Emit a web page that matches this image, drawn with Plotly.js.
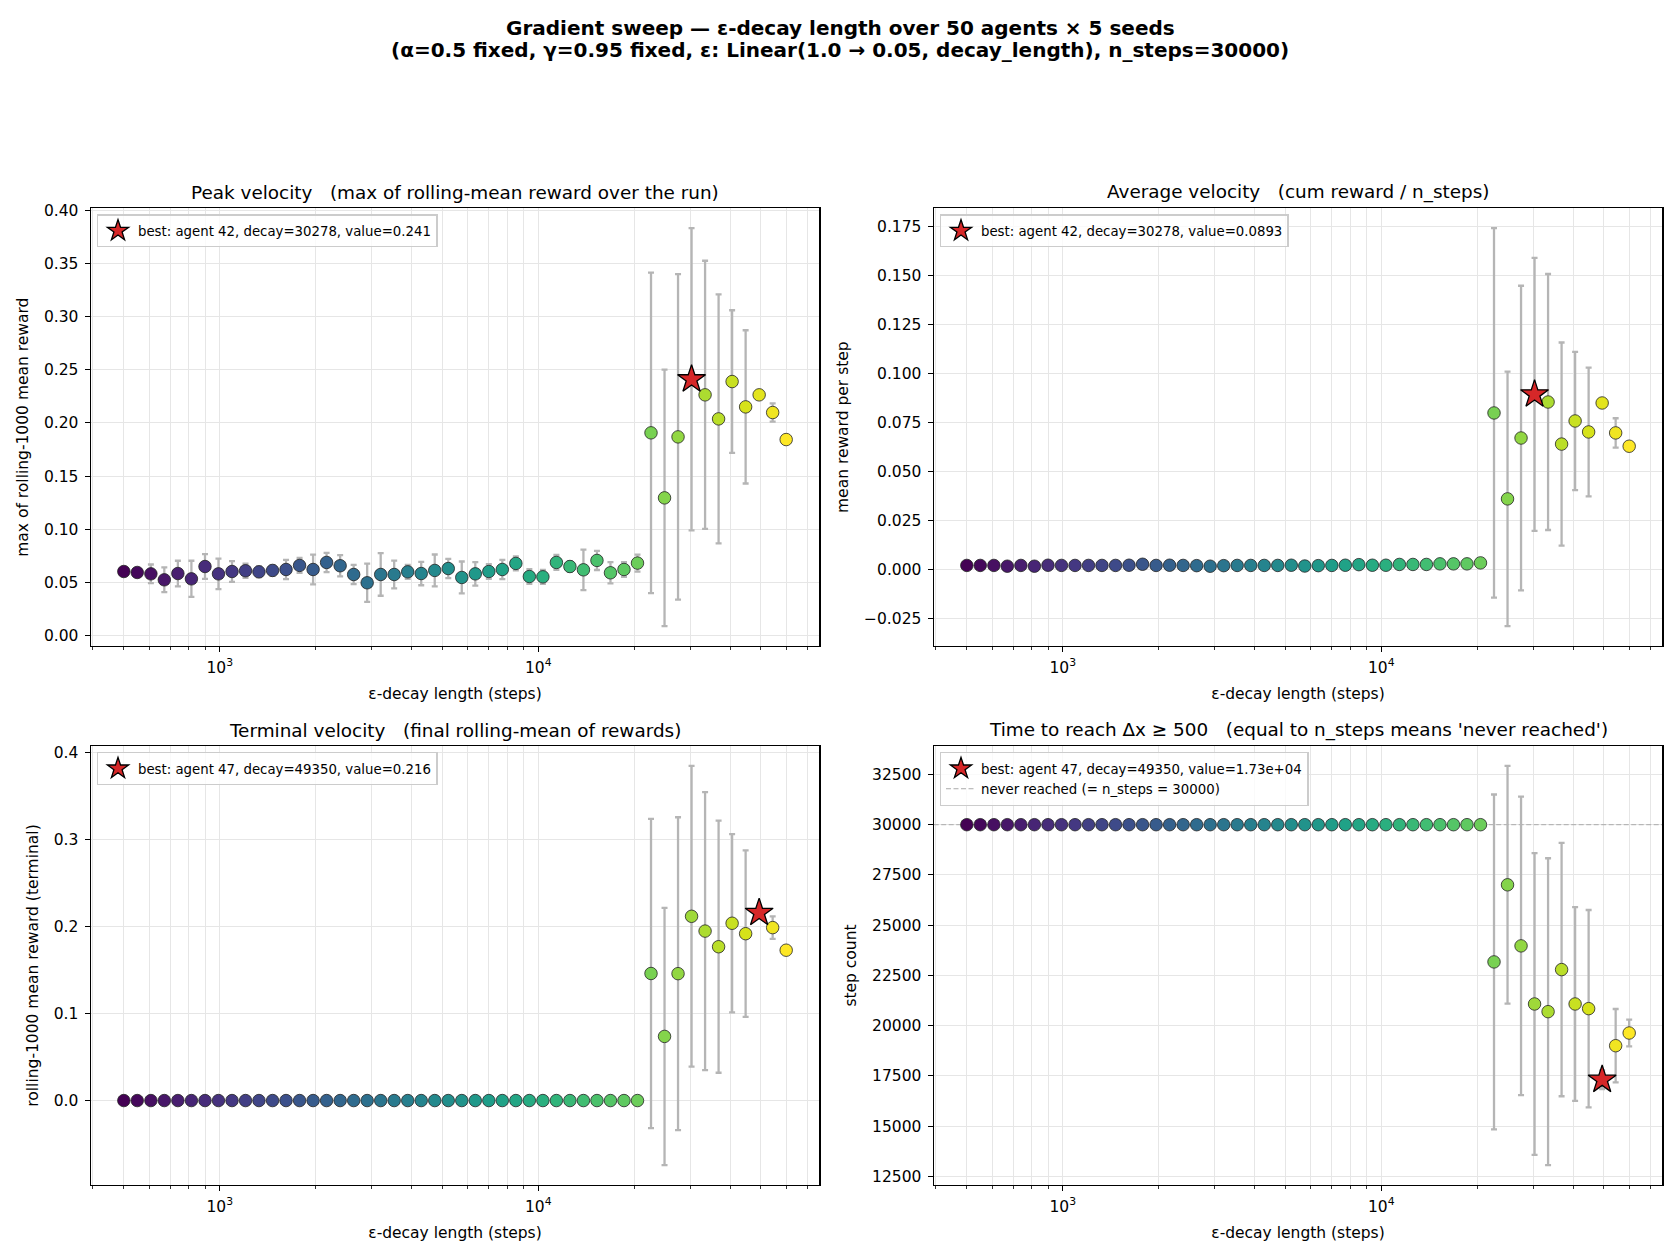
<!DOCTYPE html>
<html>
<head>
<meta charset="utf-8">
<script src="https://cdn.plot.ly/plotly-3.0.1.min.js"></script>
<style>
  html, body { margin: 0; padding: 0; background: #fff; }
  #chart { width: 1680px; height: 1260px; }
</style>
</head>
<body>
<div id="chart"></div>
<script>
'use strict';

// epsilon decay length of each agent (steps)
const decay = [500, 551, 608, 670, 739, 815, 899, 991, 1093, 1205,
    1328, 1465, 1615, 1781, 1964, 2165, 2388, 2633, 2903, 3201,
    3529, 3892, 4291, 4731, 5217, 5752, 6343, 6994, 7711, 8503,
    9376, 10338, 11399, 12568, 13858, 15281, 16849, 18578, 20484, 22586,
    24904, 27460, 30278, 33386, 36812, 40590, 44756, 49350, 54414, 60000];

// peak velocity: max of rolling-mean reward (mean over seeds, +- std)
const peak = [0.0604, 0.0595, 0.0582, 0.0526, 0.0585, 0.0535, 0.0651, 0.0582, 0.0604, 0.0611,
    0.0601, 0.0614, 0.0623, 0.0661, 0.0623, 0.0689, 0.0658, 0.0576, 0.0498, 0.0576,
    0.0576, 0.0601, 0.0585, 0.0614, 0.0632, 0.0548, 0.0582, 0.0604, 0.0623, 0.0680,
    0.0557, 0.0554, 0.0689, 0.0651, 0.0620, 0.0708, 0.0592, 0.0623, 0.0683, 0.1907,
    0.1296, 0.1869, 0.2410, 0.2264, 0.2038, 0.2389, 0.2151, 0.2264, 0.2098, 0.1844];
const peakErr = [0.002, 0.002, 0.0088, 0.0116, 0.012, 0.017, 0.0117, 0.0144, 0.0097, 0.0066,
    0.005, 0.005, 0.009, 0.007, 0.014, 0.009, 0.010, 0.009, 0.018, 0.020,
    0.013, 0.0066, 0.011, 0.015, 0.009, 0.015, 0.011, 0.007, 0.009, 0.0066,
    0.007, 0.0066, 0.007, 0.005, 0.019, 0.009, 0.010, 0.007, 0.008, 0.1506,
    0.1205, 0.153, 0.142, 0.126, 0.117, 0.067, 0.072, 0.002, 0.0085, 0.003];

// average velocity: cum reward / n_steps
const avgVel = [0.0019, 0.0019, 0.0019, 0.0015, 0.0019, 0.0015, 0.0020, 0.0019, 0.0019, 0.0019,
    0.0019, 0.0019, 0.0020, 0.0025, 0.0019, 0.0020, 0.0019, 0.0018, 0.0015, 0.0018,
    0.0019, 0.0019, 0.0019, 0.0019, 0.0020, 0.0016, 0.0018, 0.0019, 0.0020, 0.0023,
    0.0020, 0.0020, 0.0024, 0.0024, 0.0024, 0.0027, 0.0027, 0.0027, 0.0032, 0.0798,
    0.0359, 0.0670, 0.0893, 0.0854, 0.0639, 0.0757, 0.0701, 0.0849, 0.0696, 0.0628];
const avgErr = [0.0002, 0.0002, 0.0002, 0.0002, 0.0002, 0.0002, 0.0002, 0.0002, 0.0002, 0.0002,
    0.0002, 0.0002, 0.0002, 0.0002, 0.0002, 0.0002, 0.0002, 0.0002, 0.0002, 0.0002,
    0.0002, 0.0002, 0.0002, 0.0002, 0.0002, 0.0002, 0.0002, 0.0002, 0.0002, 0.0002,
    0.0002, 0.0002, 0.0002, 0.0002, 0.0002, 0.0002, 0.0002, 0.0002, 0.0003, 0.0944,
    0.065, 0.0778, 0.0697, 0.0654, 0.0519, 0.0353, 0.0329, 0.0005, 0.0075, 0.0008];

// terminal velocity: final rolling-mean of rewards
const terminal = [0, 0, 0, 0, 0, 0, 0, 0, 0, 0,
    0, 0, 0, 0, 0, 0, 0, 0, 0, 0,
    0, 0, 0, 0, 0, 0, 0, 0, 0, 0,
    0, 0, 0, 0, 0, 0, 0, 0, 0, 0.1462,
    0.0738, 0.146, 0.212, 0.195, 0.177, 0.204, 0.192, 0.216, 0.199, 0.173];
const terminalErr = [0, 0, 0, 0, 0, 0, 0, 0, 0, 0,
    0, 0, 0, 0, 0, 0, 0, 0, 0, 0,
    0, 0, 0, 0, 0, 0, 0, 0, 0, 0,
    0, 0, 0, 0, 0, 0, 0, 0, 0, 0.178,
    0.148, 0.180, 0.173, 0.160, 0.145, 0.1025, 0.0958, 0.001, 0.0129, 0.004];

// steps until dx >= 500 (n_steps when never reached)
const nSteps = 30000;
const timeTo = [30000, 30000, 30000, 30000, 30000, 30000, 30000, 30000, 30000, 30000,
    30000, 30000, 30000, 30000, 30000, 30000, 30000, 30000, 30000, 30000,
    30000, 30000, 30000, 30000, 30000, 30000, 30000, 30000, 30000, 30000,
    30000, 30000, 30000, 30000, 30000, 30000, 30000, 30000, 30000, 23173,
    27010, 23970, 21080, 20698, 22791, 21080, 20848, 17310, 19004, 19635];
const timeErr = [0, 0, 0, 0, 0, 0, 0, 0, 0, 0,
    0, 0, 0, 0, 0, 0, 0, 0, 0, 0,
    0, 0, 0, 0, 0, 0, 0, 0, 0, 0,
    0, 0, 0, 0, 0, 0, 0, 0, 0, 8330,
    5913, 7425, 7508, 7632, 6303, 4817, 4908, 465, 1827, 664];

const xTitle = 'ε-decay length (steps)';
const NB = '\u00a0\u00a0\u00a0';
const supTitle = ['Gradient sweep — ε-decay length over 50 agents × 5 seeds',
    '(α=0.5 fixed, γ=0.95 fixed, ε: Linear(1.0 → 0.05, decay_length), n_steps=30000)'];

const panels = [
    {vals: peak, errs: peakErr, pick: 'max', dtick: 0.05, fmt: '.2f',
     title: 'Peak velocity' + NB + '(max of rolling-mean reward over the run)',
     ytitle: 'max of rolling-1000 mean reward'},
    {vals: avgVel, errs: avgErr, pick: 'max', dtick: 0.025, fmt: '.3f',
     title: 'Average velocity' + NB + '(cum reward / n_steps)',
     ytitle: 'mean reward per step'},
    {vals: terminal, errs: terminalErr, pick: 'max', dtick: 0.1, fmt: '.1f',
     title: 'Terminal velocity' + NB + '(final rolling-mean of rewards)',
     ytitle: 'rolling-1000 mean reward (terminal)'},
    {vals: timeTo, errs: timeErr, pick: 'min', dtick: 2500, fmt: 'd',
     title: 'Time to reach Δx ≥ 500' + NB + '(equal to n_steps means \'never reached\')',
     ytitle: 'step count', neverLine: true},
];

// figure geometry (px)
const W = 1680, H = 1260;
const colX = [[90.7, 819.3], [933.7, 1662.3]];
const rowY = [[208.3, 646], [746, 1185]];

const FONT = 'DejaVu Sans, Liberation Sans, sans-serif';
const GRID = '#e6e6e6';
const TICK = 15.5, TITLE = 18.4, LEG = 13.3;

// like python's '{:.3g}'
function g3(v) {
    if (v === 0) return '0';
    const e = Math.floor(Math.log10(Math.abs(v)));
    if (e < -4 || e >= 3) {
        let [m, ex] = v.toExponential(2).split('e');
        m = m.replace(/\.?0+$/, '');
        return m + 'e' + ex[0] + ex.slice(1).padStart(2, '0');
    }
    return String(Number(v.toPrecision(3)));
}

function autoRange(vals, errs) {
    let lo = Infinity, hi = -Infinity;
    vals.forEach((v, i) => {
        lo = Math.min(lo, v - errs[i]);
        hi = Math.max(hi, v + errs[i]);
    });
    const pad = 0.05 * (hi - lo);
    return [lo - pad, hi + pad];
}

const lx = decay.map(Math.log10);
const xSpan = Math.max(...lx) - Math.min(...lx);
const xRange = [Math.min(...lx) - 0.05 * xSpan, Math.max(...lx) + 0.05 * xSpan];

const majorX = [1e3, 1e4];
const minorX = [];
[100, 1000, 10000].forEach(dec => {
    for (let k = 2; k <= 9; k++) {
        const v = dec * k;
        if (Math.log10(v) > xRange[0] && Math.log10(v) < xRange[1]) minorX.push(v);
    }
});

const idx = decay.map((_, i) => i);
const traces = [];
const layout = {
    width: W, height: H,
    margin: {l: 0, r: 0, t: 0, b: 0},
    paper_bgcolor: '#fff', plot_bgcolor: '#fff',
    font: {family: FONT, size: TICK, color: '#000'},
    showlegend: true,
    annotations: supTitle.map((t, i) => ({
        text: '<b>' + t + '</b>',
        xref: 'paper', yref: 'paper', x: 0.5, y: 1 - (28.3 + 21.7 * i) / H,
        xanchor: 'center', yanchor: 'middle', showarrow: false,
        font: {size: 20, family: FONT, color: '#000'}
    }))
};

panels.forEach((p, n) => {
    const k = n + 1;
    const xa = k === 1 ? 'x' : 'x' + k;
    const ya = k === 1 ? 'y' : 'y' + k;
    const lg = k === 1 ? 'legend' : 'legend' + k;
    const [cx0, cx1] = colX[n % 2];
    const [ry0, ry1] = rowY[Math.floor(n / 2)];

    let best = 0;
    p.vals.forEach((v, i) => {
        if (p.pick === 'max' ? v > p.vals[best] : v < p.vals[best]) best = i;
    });

    if (p.neverLine) {
        traces.push({
            x: [Math.pow(10, xRange[0]), Math.pow(10, xRange[1])], y: [nSteps, nSteps],
            xaxis: xa, yaxis: ya, mode: 'lines', legend: lg, legendrank: 2,
            name: 'never reached (= n_steps = ' + nSteps + ')',
            line: {color: '#aaaaaa', width: 1, dash: '5px,2.5px'},
            hoverinfo: 'skip'
        });
    }

    traces.push({
        x: decay, y: p.vals, xaxis: xa, yaxis: ya, mode: 'markers',
        showlegend: false,
        error_y: {type: 'data', array: p.errs, visible: true,
                  color: '#b5b5b5', thickness: 2.3, width: 3},
        marker: {
            size: 12.5, color: idx, colorscale: 'Viridis',
            cmin: 0, cmax: decay.length - 1,
            opacity: idx.map(i => i === best ? 0 : 1),
            line: {color: '#222', width: 0.8}
        }
    });

    traces.push({
        x: [decay[best]], y: [p.vals[best]], xaxis: xa, yaxis: ya,
        mode: 'markers', legend: lg, legendrank: 1,
        name: 'best: agent ' + best + ', decay=' + Math.round(decay[best]) +
              ', value=' + g3(p.vals[best]),
        marker: {symbol: 'star', size: 21, color: '#d62728',
                 line: {color: '#000', width: 1.3}}
    });

    layout[xa.replace('x', 'xaxis')] = {
        domain: [cx0 / W, cx1 / W], anchor: ya, type: 'log', range: xRange,
        tickmode: 'array', tickvals: majorX,
        ticktext: majorX.map(v => '10<sup>' + Math.round(Math.log10(v)) + '</sup>'),
        ticks: 'outside', ticklen: 5, tickwidth: 1, tickcolor: '#000',
        minor: {tickvals: minorX, ticks: 'outside', ticklen: 3, tickwidth: 0.8,
                tickcolor: '#000', showgrid: true, gridcolor: GRID, gridwidth: 1},
        showgrid: true, gridcolor: GRID, gridwidth: 1, zeroline: false,
        showline: true, mirror: true, linecolor: '#000', linewidth: 1.2,
        tickfont: {size: TICK}, ticklabelstandoff: 2,
        title: {text: xTitle, font: {size: TICK}, standoff: 12}
    };

    layout[ya.replace('y', 'yaxis')] = {
        domain: [1 - ry1 / H, 1 - ry0 / H], anchor: xa,
        range: autoRange(p.vals, p.errs), tick0: 0, dtick: p.dtick, tickformat: p.fmt,
        ticks: 'outside', ticklen: 5, tickwidth: 1, tickcolor: '#000',
        showgrid: true, gridcolor: GRID, gridwidth: 1, zeroline: false,
        showline: true, mirror: true, linecolor: '#000', linewidth: 1.2,
        tickfont: {size: TICK}, ticklabelstandoff: 3,
        title: {text: p.ytitle, font: {size: TICK}, standoff: 11}
    };

    layout[lg] = {
        x: (cx0 + 6) / W, y: 1 - (ry0 + 6) / H, xanchor: 'left', yanchor: 'top',
        bgcolor: 'rgba(255,255,255,0.8)', bordercolor: '#cccccc', borderwidth: 1.3,
        font: {size: LEG, family: FONT}, itemsizing: 'trace', traceorder: 'normal'
    };

    layout.annotations.push({
        text: p.title, xref: 'paper', yref: 'paper',
        x: (cx0 + cx1) / 2 / W, y: 1 - (ry0 - 16) / H,
        xanchor: 'center', yanchor: 'middle', showarrow: false,
        font: {size: TITLE, family: FONT, color: '#000'}
    });
});

Plotly.newPlot('chart', traces, layout, {displayModeBar: false, staticPlot: true});
</script>
</body>
</html>
